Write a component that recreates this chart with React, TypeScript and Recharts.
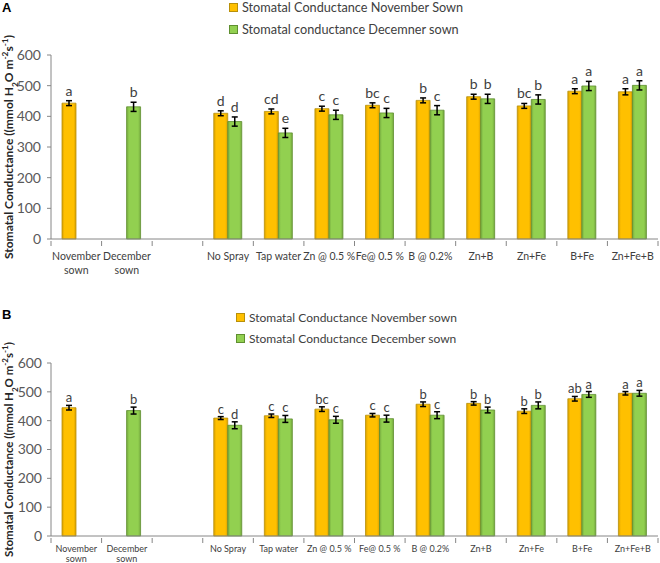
import React from 'react';
import { BarChart, Bar, XAxis, YAxis, ErrorBar, LabelList, Legend } from 'recharts';

const categories = ['November sown', 'December sown', '', 'No Spray', 'Tap water', 'Zn @ 0.5 %', 'Fe@ 0.5 %', 'B @ 0.2%', 'Zn+B', 'Zn+Fe', 'B+Fe', 'Zn+Fe+B'];
const yTicks = [0, 100, 200, 300, 400, 500, 600];

// Panel A
const novA = [443, null, null, 410, 416, 425, 436, 452, 464, 434, 482, 480];
const novErrA = [8, null, null, 8, 8, 8, 8, 8, 8, 8, 8, 10];
const novLetA = ['a', '', '', 'd', 'cd', 'c', 'bc', 'b', 'b', 'bc', 'a', 'a'];
const decA = [null, 431, null, 383, 346, 405, 411, 420, 457, 455, 499, 501];
const decErrA = [null, 15, null, 15, 15, 15, 15, 15, 15, 15, 15, 15];
const decLetA = ['', 'b', '', 'd', 'e', 'c', 'c', 'c', 'b', 'b', 'a', 'a'];
const legendA = ['Stomatal Conductance November Sown', 'Stomatal conductance Decemner sown'];

// Panel B
const novB = [445, null, null, 409, 417, 440, 419, 457, 460, 433, 476, 495];
const novErrB = [8, null, null, 5, 6, 8, 6, 8, 6, 8, 8, 6];
const novLetB = ['a', '', '', 'c', 'c', 'bc', 'c', 'b', 'b', 'b', 'ab', 'a'];
const decB = [null, 435, null, 384, 406, 403, 407, 419, 437, 453, 491, 495];
const decErrB = [null, 12, null, 12, 12, 12, 12, 12, 10, 12, 10, 10];
const decLetB = ['', 'b', '', 'd', 'c', 'c', 'c', 'c', 'b', 'b', 'a', 'a'];
const legendB = ['Stomatal Conductance November sown', 'Stomatal Conductance December sown'];

const FONT = 'Lato, "Liberation Sans", sans-serif';
const AXIS = '#868686';
const W = 660;
const YW = 51;
const MR = 2;
const BAND = (W - YW - MR) / categories.length;

const build = (nov: any[], ne: any[], nl: string[], dec: any[], de: any[], dl: string[]) =>
  categories.map((c, i) => ({ cat: c, nov: nov[i], novErr: ne[i], novLet: nl[i], dec: dec[i], decErr: de[i], decLet: dl[i] }));

const dataA = build(novA, novErrA, novLetA, decA, decErrA, decLetA);
const dataB = build(novB, novErrB, novLetB, decB, decErrB, decLetB);

// label value packs letter|value|error so the position follows the bar's own scale
const packNov = (d: any) => (d.novLet && d.nov != null ? `${d.novLet}|${d.nov}|${d.novErr ?? 0}` : '');
const packDec = (d: any) => (d.decLet && d.dec != null ? `${d.decLet}|${d.dec}|${d.decErr ?? 0}` : '');

const makeLetter = (fs: number, gap: number) => (props: any) => {
  const { x, y, width, height, value } = props;
  if (!value) return null;
  const [letter, v, e] = String(value).split('|');
  const ppu = height / Number(v);
  return (
    <text x={x + width / 2} y={y - Number(e) * ppu - gap} textAnchor="middle" fontSize={fs} fill="#404040" fontFamily={FONT}>
      {letter}
    </text>
  );
};

const makeXTick = (fs: number, l1: number, l2: number) => (props: any) => {
  const { x, y, payload, index } = props;
  const v: string = payload.value || '';
  const lines = v.endsWith('sown') ? [v.replace(' sown', ''), 'sown'] : [v];
  return (
    <g>
      <line x1={x - BAND / 2} x2={x - BAND / 2} y1={y} y2={y + 5} stroke={AXIS} />
      {index === categories.length - 1 && <line x1={x + BAND / 2} x2={x + BAND / 2} y1={y} y2={y + 5} stroke={AXIS} />}
      {lines.map((t, i) => (
        <text key={i} x={x} y={y + (i === 0 ? l1 : l2)} textAnchor="middle" fontSize={fs} fill="#404040" fontFamily={FONT}>
          {t}
        </text>
      ))}
    </g>
  );
};

const makeYLabel = (fs: number, bx: number) => (props: any) => {
  const vb = props.viewBox || {};
  const cy = vb.y + vb.height / 2;
  return (
    <text transform={`translate(${bx},${cy}) rotate(-90)`} textAnchor="middle" fontSize={fs} fontWeight="bold" fill="#262626" fontFamily={FONT}>
      Stomatal Conductance ((mmol H<tspan baselineShift="sub" fontSize={fs * 0.7}>2</tspan>O m<tspan baselineShift="super" fontSize={fs * 0.7}>-2</tspan>s<tspan baselineShift="super" fontSize={fs * 0.7}>-1</tspan>)
    </text>
  );
};

const makeLegend = (labels: string[], fs: number, rowGap: number) => () => (
  <div style={{ fontFamily: FONT, fontSize: fs, color: '#404040' }}>
    {labels.map((l, i) => (
      <div key={i} style={{ display: 'flex', alignItems: 'center', height: rowGap }}>
        <span
          style={{
            display: 'inline-block', width: 7, height: 7, marginRight: 4,
            background: i === 0 ? '#FFC000' : '#92D050', border: `1px solid ${i === 0 ? '#B8900A' : '#5F8F30'}`,
          }}
        />
        <span style={{ whiteSpace: 'nowrap' }}>{l}</span>
      </div>
    ))}
  </div>
);

const Defs = () => (
  <defs>
    <linearGradient id="gOr" x1="0" y1="0" x2="1" y2="0">
      <stop offset="0%" stopColor="#D9A000" />
      <stop offset="18%" stopColor="#FFC000" />
      <stop offset="82%" stopColor="#FFC000" />
      <stop offset="100%" stopColor="#D9A000" />
    </linearGradient>
    <linearGradient id="gGr" x1="0" y1="0" x2="1" y2="0">
      <stop offset="0%" stopColor="#74A83E" />
      <stop offset="18%" stopColor="#92D050" />
      <stop offset="82%" stopColor="#92D050" />
      <stop offset="100%" stopColor="#74A83E" />
    </linearGradient>
  </defs>
);

type PanelProps = {
  data: any[]; height: number; top: number; xh: number; tfs: number; xfs: number; l1: number; l2: number;
  lfs: number; lgap: number; legend: string[]; legFs: number; legRow: number; legLeft: number; legTop: number;
  ylfs: number; ylx: number; yTickMargin: number; letter: string; letterTop: number;
};

const Panel = (p: PanelProps) => (
  <div style={{ position: 'relative', width: W, height: p.height }}>
    <BarChart width={W} height={p.height} data={p.data} margin={{ top: p.top, right: MR, left: 0, bottom: 0 }} barGap={0} barSize={14}>
      <Defs />
      <XAxis dataKey="cat" height={p.xh} interval={0} tickSize={0} tickLine={false} axisLine={{ stroke: AXIS }} tick={makeXTick(p.xfs, p.l1, p.l2)} />
      <YAxis
        width={YW} domain={[0, 600]} ticks={yTicks} tickSize={4} tickMargin={p.yTickMargin}
        axisLine={{ stroke: AXIS }} tickLine={{ stroke: AXIS }}
        tick={{ fill: '#595959', fontSize: p.tfs, fontFamily: FONT }}
        label={{ content: makeYLabel(p.ylfs, p.ylx) } as any}
      />
      <Legend
        verticalAlign="top"
        content={makeLegend(p.legend, p.legFs, p.legRow)}
        wrapperStyle={{ position: 'absolute', left: p.legLeft, top: p.legTop, width: 'auto' }}
      />
      <Bar dataKey="nov" fill="url(#gOr)" stroke="#B8900A" strokeWidth={0.8} isAnimationActive={false}>
        <ErrorBar dataKey="novErr" width={3} stroke="#000" strokeWidth={1.5} direction="y" />
        <LabelList dataKey={packNov as any} content={makeLetter(p.lfs, p.lgap)} />
      </Bar>
      <Bar dataKey="dec" fill="url(#gGr)" stroke="#5F8F30" strokeWidth={0.8} isAnimationActive={false}>
        <ErrorBar dataKey="decErr" width={3} stroke="#000" strokeWidth={1.5} direction="y" />
        <LabelList dataKey={packDec as any} content={makeLetter(p.lfs, p.lgap)} />
      </Bar>
    </BarChart>
    <div style={{ position: 'absolute', left: 2, top: p.letterTop, fontFamily: 'Arial, "Liberation Sans", sans-serif', fontWeight: 'bold', fontSize: 13, color: '#000' }}>
      {p.letter}
    </div>
  </div>
);

export default function App() {
  return (
    <div style={{ position: 'absolute', left: 0, top: 0, width: W, height: 563, background: '#fff' }}>
      <Panel
        data={dataA} height={280} top={11} xh={41} tfs={14} xfs={10.5} l1={19} l2={33}
        lfs={14} lgap={5} legend={legendA} legFs={12.7} legRow={22} legLeft={229} legTop={-4}
        ylfs={12} ylx={13} yTickMargin={6} letter="A" letterTop={0}
      />
      <Panel
        data={dataB} height={283} top={41} xh={27} tfs={14} xfs={9} l1={14} l2={24}
        lfs={13} lgap={3} legend={legendB} legFs={12} legRow={21} legLeft={236} legTop={27}
        ylfs={11.5} ylx={13} yTickMargin={5} letter="B" letterTop={27}
      />
    </div>
  );
}
